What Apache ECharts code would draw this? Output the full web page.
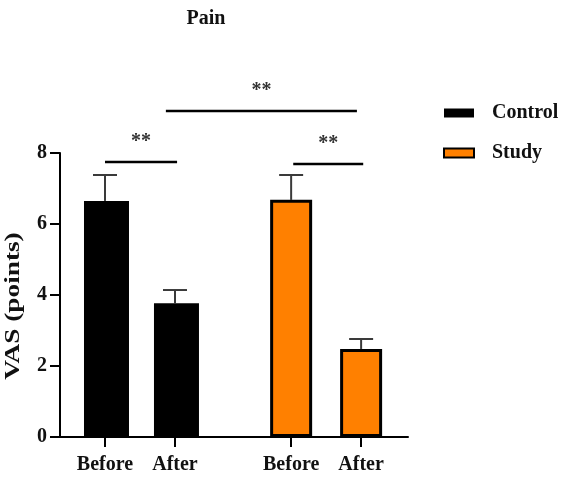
<!DOCTYPE html>
<html>
<head>
<meta charset="utf-8">
<script src="https://cdn.jsdelivr.net/npm/echarts@6/dist/echarts.min.js"></script>
<style>
  html, body { margin: 0; padding: 0; background: #fff; }
  #chart { width: 567px; height: 484px; }
</style>
</head>
<body>
<div id="chart"></div>
<script>
// group positions on the x axis (Control: Before/After, Study: Before/After)
const xLabels = ['Before', 'After', 'Before', 'After']
const xPos = [1, 2, 3.66, 4.66]

const controlMean = [6.65, 3.77]
const controlUpper = [7.38, 4.14]
const studyMean = [6.68, 2.48]
const studyUpper = [7.38, 2.76]

// significance lines: [x start, x end, y, label]
const sigLines = [
  [1, 2.03, 7.75, '**'],
  [1.87, 4.6, 9.18, '**'],
  [3.69, 4.69, 7.69, '**']
]

const yTicks = [0, 2, 4, 6, 8]
const yName = 'VAS (points)'

const serif = '"Liberation Serif", "DejaVu Serif", serif'

const chart = echarts.init(document.getElementById('chart'))

const errData = [
  [xPos[0], controlMean[0], controlUpper[0]],
  [xPos[1], controlMean[1], controlUpper[1]],
  [xPos[2], studyMean[0], studyUpper[0]],
  [xPos[3], studyMean[1], studyUpper[1]]
]

const option = {
  animation: false,
  title: {
    text: 'Pain',
    left: 206,
    top: 9,
    padding: 0,
    textAlign: 'center',
    textStyle: { fontFamily: serif, fontWeight: 'bold', fontSize: 20, color: '#111' }
  },
  // y axis title, drawn a little stretched like the original
  graphic: [{
    type: 'text',
    x: 14,
    y: 306,
    rotation: Math.PI / 2,
    scaleX: 1.3,
    style: {
      text: yName,
      font: 'bold 21px ' + serif,
      fill: '#111',
      align: 'center',
      verticalAlign: 'middle'
    }
  }],
  legend: {
    orient: 'vertical',
    left: 443,
    top: 103,
    padding: 0,
    itemWidth: 30,
    itemHeight: 9,
    itemGap: 20,
    icon: 'rect',
    textStyle: { fontFamily: serif, fontWeight: 'bold', fontSize: 20, color: '#111', padding: [0, 0, 0, 13] },
    data: ['Control', 'Study']
  },
  grid: { left: 60, right: 159, top: 153, bottom: 47, outerBoundsMode: 'none' },
  xAxis: {
    type: 'value',
    min: 0.357,
    max: 5.33,
    splitLine: { show: false },
    axisLine: { show: true, lineStyle: { color: '#000', width: 2 } },
    axisTick: {
      show: true,
      length: 10,
      lineStyle: { color: '#000', width: 2 },
      customValues: xPos
    },
    axisLabel: {
      customValues: xPos,
      formatter: (v) => xLabels[xPos.indexOf(v)] || '',
      margin: 18,
      fontFamily: serif,
      fontWeight: 'bold',
      fontSize: 20,
      color: '#111'
    }
  },
  yAxis: {
    type: 'value',
    min: 0,
    max: 8,
    interval: 2,
    splitLine: { show: false },
    axisLine: { show: true, lineStyle: { color: '#000', width: 2 } },
    axisTick: { show: true, length: 10, lineStyle: { color: '#000', width: 2 } },
    axisLabel: {
      customValues: yTicks,
      margin: 13,
      fontFamily: serif,
      fontWeight: 'bold',
      fontSize: 20,
      color: '#111'
    }
  },
  series: [
    {
      name: 'Control',
      type: 'bar',
      barWidth: 45,
      barGap: '-100%',
      data: controlMean.map((v, i) => [xPos[i], v]),
      itemStyle: { color: '#000', borderColor: '#000', borderWidth: 0 }
    },
    {
      name: 'Study',
      type: 'bar',
      barWidth: 42,
      barGap: '-100%',
      data: studyMean.map((v, i) => [xPos[i + 2], v]),
      itemStyle: { color: '#ff8000', borderColor: '#000', borderWidth: 3 }
    },
    {
      // upper error bars only
      type: 'custom',
      data: errData,
      z: 1,
      renderItem: (params, api) => {
        const base = api.coord([api.value(0), api.value(1)])
        const top = api.coord([api.value(0), api.value(2)])
        const style = { stroke: '#3a3a3a', lineWidth: 2 }
        return {
          type: 'group',
          children: [
            { type: 'line', shape: { x1: base[0], y1: base[1], x2: top[0], y2: top[1] }, style },
            { type: 'line', shape: { x1: top[0] - 12, y1: top[1], x2: top[0] + 12, y2: top[1] }, style }
          ]
        }
      }
    },
    {
      // significance lines
      type: 'custom',
      clip: false,
      data: sigLines,
      renderItem: (params, api) => {
        const a = api.coord([api.value(0), api.value(2)])
        const b = api.coord([api.value(1), api.value(2)])
        const label = sigLines[params.dataIndex][3]
        return {
          type: 'group',
          children: [
            { type: 'line', shape: { x1: a[0], y1: a[1], x2: b[0], y2: b[1] }, style: { stroke: '#000', lineWidth: 2.5 } },
            {
              type: 'text',
              x: (a[0] + b[0]) / 2,
              y: a[1] - 20,
              style: {
                text: label,
                fill: '#333',
                font: 'bold 20px ' + serif,
                align: 'center',
                verticalAlign: 'middle'
              }
            }
          ]
        }
      }
    }
  ]
}

chart.setOption(option)
</script>
</body>
</html>
